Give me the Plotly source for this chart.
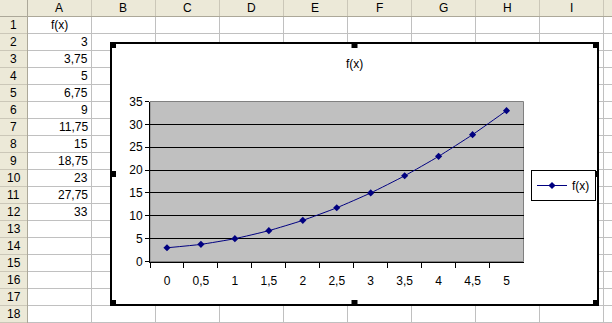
import plotly.graph_objects as go

# ---------------- data ----------------
x_labels = ["0", "0,5", "1", "1,5", "2", "2,5", "3", "3,5", "4", "4,5", "5"]
fx = [3, 3.75, 5, 6.75, 9, 11.75, 15, 18.75, 23, 27.75, 33]
series_name = "f(x)"
chart_title = "f(x)"
col_letters = ["A", "B", "C", "D", "E", "F", "G", "H", "I"]
row_numbers = list(range(1, 19))

# ---------------- geometry (pixels) ----------------
W, H = 612, 323
HDR_H, ROW_H, ROWHDR_W, COL_W = 16, 17, 27, 64
FONT = "Liberation Sans, Arial, sans-serif"
HDR_BG = "#ECE9D8"
GRID = "#C0C0C0"
HDR_LINE = "#ACA899"


def px(x):
    return x / W


def py(y):
    return 1 - y / H


shapes = []
annotations = []


def rect(x0, y0, x1, y1, fill=None, line=None, lw=1):
    shapes.append(dict(type="rect", xref="paper", yref="paper", layer="below",
                       x0=px(x0), x1=px(x1), y0=py(y0), y1=py(y1),
                       fillcolor=fill if fill else "rgba(0,0,0,0)",
                       line=dict(color=line if line else "rgba(0,0,0,0)", width=lw if line else 0)))


def hline(y, x0, x1, color, lw=1):
    shapes.append(dict(type="line", xref="paper", yref="paper", layer="below",
                       x0=px(x0), x1=px(x1), y0=py(y), y1=py(y), line=dict(color=color, width=lw)))


def vline(x, y0, y1, color, lw=1):
    shapes.append(dict(type="line", xref="paper", yref="paper", layer="below",
                       x0=px(x), x1=px(x), y0=py(y0), y1=py(y1), line=dict(color=color, width=lw)))


def text(x, y, s, anchor="center", size=12):
    annotations.append(dict(xref="paper", yref="paper", x=px(x), y=py(y), text=s,
                            showarrow=False, xanchor=anchor, yanchor="middle",
                            borderpad=0, font=dict(family=FONT, size=size, color="black")))


# ---------------- spreadsheet ----------------
rect(0, 0, W, HDR_H, fill=HDR_BG)
rect(0, HDR_H, ROWHDR_W, H, fill=HDR_BG)

for k in range(1, len(row_numbers) + 1):
    y = HDR_H + ROW_H * k + 0.5
    hline(y, ROWHDR_W, W, GRID)
    hline(y, 0, ROWHDR_W, "#CBC7B8")
for j in range(1, len(col_letters) + 1):
    x = ROWHDR_W + COL_W * j + 0.5
    vline(x, HDR_H, H, GRID)
    vline(x, 0, HDR_H, "#CBC7B8")
hline(HDR_H + 0.5, 0, W, HDR_LINE)
vline(ROWHDR_W + 0.5, 0, H, HDR_LINE)

for j, letter in enumerate(col_letters):
    text(ROWHDR_W + COL_W * j + COL_W / 2, HDR_H / 2 + 0.5, letter)
for k, rn in enumerate(row_numbers):
    text(ROWHDR_W / 2 + 0.5, HDR_H + ROW_H * k + ROW_H / 2 + 0.5, str(rn))

# column A contents
text(ROWHDR_W + COL_W / 2, HDR_H + ROW_H / 2 + 0.5, series_name)
for i, v in enumerate(fx):
    s = ("%g" % v).replace(".", ",")
    text(ROWHDR_W + COL_W - 2, HDR_H + ROW_H * (i + 1) + ROW_H / 2 + 0.5, s, anchor="right")

# ---------------- chart object ----------------
CX0, CY0, CX1, CY1 = 110, 42, 599, 306
rect(CX0 + 1, CY0 + 1, CX1 - 1, CY1 - 1, fill="white", line="black", lw=2)

PX0, PY0, PX1, PY1 = 150, 101.5, 523.5, 261.5
rect(PX0, PY0, PX1, PY1, fill="#C0C0C0", line="#808080", lw=1)

# selection handles
hs = 6
cxm = (CX0 + CX1) / 2
cym = 171
for (hx, hy) in [(CX0, CY0), (cxm - 3, CY0), (CX1 - hs, CY0),
                 (CX0, cym), (CX1 - hs, cym),
                 (CX0, CY1 - hs), (cxm - 3, CY1 - hs), (CX1 - hs, CY1 - hs)]:
    rect(hx, hy, hx + hs, hy + hs, fill="black")

text(cxm, 64.5, chart_title)

fig = go.Figure()
fig.add_trace(go.Scatter(
    x=x_labels, y=fx, name=series_name, mode="lines+markers",
    line=dict(color="#000080", width=1, shape="spline", smoothing=0.5),
    marker=dict(symbol="diamond", size=5.5, color="#000080"),
))

fig.update_layout(
    width=W, height=H, autosize=False,
    margin=dict(l=0, r=0, t=0, b=0, pad=0, autoexpand=False),
    paper_bgcolor="white", plot_bgcolor="rgba(0,0,0,0)",
    font=dict(family=FONT, size=12, color="black"),
    shapes=shapes, annotations=annotations,
    showlegend=True,
    legend=dict(x=px(531), y=py(170), xanchor="left", yanchor="top",
                bgcolor="white", bordercolor="black", borderwidth=1,
                font=dict(family=FONT, size=12, color="black"),
                itemwidth=30, tracegroupgap=0),
    xaxis=dict(domain=[px(PX0), px(PX1)], type="category", range=[-0.5, 10.5],
               tickson="boundaries", ticks="outside", ticklen=5, tickcolor="black",
               showline=True, linecolor="black", linewidth=1, showgrid=False,
               zeroline=False, tickfont=dict(size=12), ticklabelstandoff=8,
               fixedrange=True),
    yaxis=dict(domain=[py(PY1), py(PY0)], range=[0, 35], dtick=5, tick0=0,
               ticks="outside", ticklen=4, tickcolor="black",
               showline=True, linecolor="black", linewidth=1,
               showgrid=True, gridcolor="black", gridwidth=1, zeroline=False,
               tickfont=dict(size=12), fixedrange=True),
)

fig.write_html("out.html")
